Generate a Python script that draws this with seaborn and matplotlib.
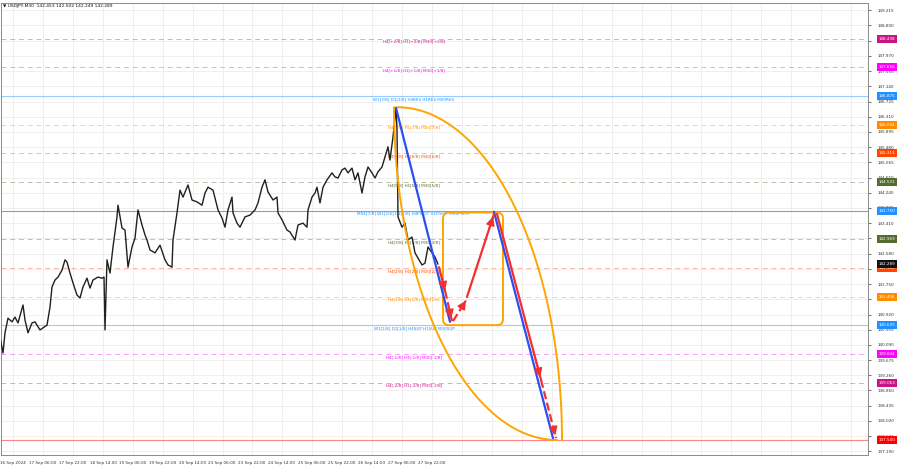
import numpy as np
import pandas as pd
import seaborn as sns
import matplotlib.pyplot as plt
from matplotlib.patches import FancyBboxPatch

# price path (bar slot, close)
bars = [0, 3, 5, 8, 12, 15, 18, 23, 25, 28, 32, 35, 40, 47, 50, 52, 55, 58, 62, 65,
        67, 70, 73, 77, 80, 83, 87, 90, 93, 98, 102, 104, 105, 107, 110, 113, 117, 118, 122, 125,
        128, 132, 135, 138, 142, 145, 147, 150, 155, 160, 165, 168, 172, 173, 177, 180, 183, 188, 192, 197,
        202, 205, 208, 213, 218, 222, 225, 228, 232, 233, 237, 240, 245, 250, 255, 258, 262, 265, 268, 273,
        277, 278, 282, 287, 290, 295, 298, 303, 307, 308, 312, 315, 317, 320, 323, 327, 332, 335, 338, 342,
        345, 348, 352, 355, 358, 362, 365, 368, 372, 375, 378, 382, 385, 388, 390, 393, 396, 397, 398, 402,
        405, 408, 412, 415, 418, 422, 425, 428, 432, 435, 438]
close = [140.30, 139.87, 140.42, 140.82, 140.72, 140.85, 140.69, 141.18, 140.77, 140.42, 140.69, 140.72, 140.50, 140.63, 141.12, 141.67, 141.86, 141.94, 142.13, 142.41,
         142.35, 142.05, 141.78, 141.45, 141.37, 141.67, 141.91, 141.64, 141.86, 141.94, 141.91, 141.94, 140.50, 142.41, 142.05, 142.76, 143.58, 143.90, 143.28, 143.22,
         142.21, 142.76, 143.00, 143.77, 143.36, 143.09, 142.95, 142.68, 142.60, 142.81, 142.41, 142.27, 142.21, 142.95, 143.69, 144.31, 144.12, 144.45, 144.04, 143.99,
         143.90, 144.23, 144.39, 144.31, 143.77, 143.55, 143.30, 143.77, 144.12, 143.69, 143.41, 143.30, 143.58, 143.63, 143.77, 143.96, 144.39, 144.59, 144.26, 144.04,
         144.12, 143.69, 143.50, 143.22, 143.17, 142.95, 143.36, 143.41, 143.30, 143.77, 144.12, 144.23, 144.39, 143.96, 144.39, 144.59, 144.78, 144.67, 144.64, 144.86,
         144.91, 144.78, 144.91, 144.59, 144.78, 144.23, 144.67, 144.94, 144.78, 144.64, 144.81, 144.94, 145.21, 145.49, 145.13, 145.76, 146.55, 145.95, 143.58, 143.30,
         143.41, 142.95, 143.03, 142.60, 142.46, 142.27, 142.32, 142.76, 142.60, 142.49, 142.29]

# murrey levels
level_prices = [148.438, 147.656, 146.875, 146.094, 145.313, 144.531, 143.750,
                142.969, 142.188, 141.406, 140.625, 139.844, 139.063]
level_names = ["H4[+2/8] H1[+2/8] M30[+2/8]", "H4[+1/8] H1[+1/8] M30[+1/8]",
               "W1[3/8] D1[3/8] H4RES H1RES M30RES", "H4[7/8] H1[7/8] M30[7/8]",
               "H4[6/8] H1[6/8] M30[6/8]", "H4[5/8] H1[5/8] M30[5/8]",
               "MN1[7/8] W1[2/8] D1[2/8] H4PIVOT H1PIVOT M30PIVOT",
               "H4[3/8] H1[3/8] M30[3/8]", "H4[2/8] H1[2/8] M30[2/8]",
               "H4[1/8] H1[1/8] M30[1/8]", "W1[1/8] D1[1/8] H4SUP H1SUP M30SUP",
               "H4[-1/8] H1[-1/8] M30[-1/8]", "H4[-2/8] H1[-2/8] M30[-2/8]"]
level_colors = ["#c71585", "#ff00ff", "#1e90ff", "#ff8c00", "#ff4500", "#556b2f", "#1e90ff",
                "#556b2f", "#ff4500", "#ff8c00", "#1e90ff", "#ff00ff", "#c71585"]
level_solid = [False, False, True, False, False, False, True,
               False, False, False, True, False, False]

target_price = 137.500
last_price = 142.289

y_ticks = [149.215, 148.800, 148.385, 147.970, 147.555, 147.140, 146.725, 146.310, 145.895,
           145.480, 145.065, 144.650, 144.240, 143.825, 143.410, 142.995, 142.580, 142.165,
           141.750, 141.335, 140.920, 140.505, 140.090, 139.675, 139.260, 138.850, 138.435,
           138.020, 137.605, 137.190]
x_ticks = [13, 43, 73, 103, 133, 163, 193, 222, 252, 282, 312, 342, 372, 402, 432]
x_labels = ["16 Sep 2024", "17 Sep 06:00", "17 Sep 22:00", "18 Sep 14:00", "19 Sep 06:00",
            "19 Sep 22:00", "20 Sep 14:00", "23 Sep 06:00", "23 Sep 22:00", "24 Sep 14:00",
            "25 Sep 06:00", "25 Sep 22:00", "26 Sep 14:00", "27 Sep 06:00", "27 Sep 22:00"]

# forecast drawing anchors (bar, price)
blue_legs = [((396, 146.55), (450, 140.72)), ((494, 143.72), (553, 137.55))]
red_legs = [((439, 142.21), (445, 141.57), '-'), ((445, 141.57), (452, 140.74), '--'),
            ((453, 140.74), (466, 141.30), '--'), ((467, 141.40), (494, 143.66), '-'),
            ((497, 143.66), (541, 139.14), '-'), ((541, 139.14), (556, 137.55), '--')]
box_x = (443, 503)
box_p = (140.63, 143.70)
arc_top = (394, 146.57)
arc_bottom = (557, 137.50)

sns.set_style("white")
plt.rcParams['font.family'] = ['DejaVu Sans']

fig = plt.figure(figsize=(9, 4.68), dpi=100)
ax = fig.add_axes([1 / 900, 13 / 468, 867 / 900, 452 / 468])
ax.set_xlim(1, 868)
ax.set_ylim(137.091, 149.410)

# grid
for gx in np.arange(13, 868, 29.93):
    ax.axvline(gx, color='#ececec', lw=0.6, zorder=0)
for gy in y_ticks:
    ax.axhline(gy, color='#ececec', lw=0.6, zorder=0)

# levels
for p, name, c, solid in zip(level_prices, level_names, level_colors, level_solid):
    if solid:
        ax.axhline(p, color=c, lw=0.8, alpha=0.75 if name.startswith('MN1') else 0.45, zorder=1)
    else:
        ax.axhline(p, color=c, lw=0.7, ls=(0, (5, 4)), alpha=0.4, zorder=1)
    ax.annotate(name, xy=(414, p), xytext=(0, -2.3), textcoords='offset points',
                ha='center', va='center', fontsize=3, color=c, zorder=2)
ax.axhline(target_price, color='#ff5050', lw=0.8, alpha=0.7, zorder=1)

# price
df = pd.DataFrame({'bar': bars, 'close': close})
sns.lineplot(data=df, x='bar', y='close', estimator=None, sort=False,
             color='#202020', lw=1.0, ax=ax, zorder=3)

# orange lens
t = np.linspace(0, np.pi / 2, 80)
dx = arc_bottom[0] - arc_top[0]
dp = arc_top[1] - arc_bottom[1]
ax.plot(arc_bottom[0] - dx * np.cos(t), arc_top[1] - dp * np.sin(t), color='#ffa500', lw=1.4, zorder=4)
ax.plot(arc_top[0] + 3 + (dx + 2) * np.sin(t), arc_bottom[1] + dp * np.cos(t), color='#ffa500', lw=1.4, zorder=4)
ax.add_patch(FancyBboxPatch((box_x[0], box_p[0]), box_x[1] - box_x[0], box_p[1] - box_p[0],
                            boxstyle='round,pad=0,rounding_size=6', mutation_aspect=0.027255,
                            fill=False, ec='#ffa500', lw=1.4, zorder=4))

for a, b in blue_legs:
    ax.plot([a[0], b[0]], [a[1], b[1]], color='#2a4ff2', lw=1.6, zorder=5)
for a, b, ls in red_legs:
    ax.plot([a[0], b[0]], [a[1], b[1]], color='#f23030', lw=1.6, ls=ls, zorder=6)
    ax.annotate('', xy=b, xytext=(a[0] + 0.8 * (b[0] - a[0]), a[1] + 0.8 * (b[1] - a[1])),
                arrowprops=dict(arrowstyle='-|>,head_length=0.5,head_width=0.25',
                                color='#f23030', lw=1.2), zorder=6)

# axes styling
ax.set_xlabel('')
ax.set_ylabel('')
ax.yaxis.tick_right()
ax.set_yticks(y_ticks)
ax.set_yticklabels([f"{v:.3f}" for v in y_ticks])
ax.set_xticks(x_ticks)
ax.set_xticklabels(x_labels)
ax.tick_params(axis='y', labelsize=3, length=2, width=0.5, pad=5, colors='#333333')
ax.tick_params(axis='x', labelsize=3, length=2, width=0.5, pad=2, colors='#333333')
for s in ax.spines.values():
    s.set_color('#8a8a8a')
    s.set_linewidth(0.7)

# right-side price tags
tags = list(zip(level_prices, level_colors)) + [(last_price, '#111111'), (target_price, '#ff0000')]
tags = sorted(tags, key=lambda x: x[0] == last_price)
for p, c in tags:
    ax.annotate(f"{p:.3f}", xy=(1, p), xycoords=('axes fraction', 'data'),
                xytext=(7.5, 0), textcoords='offset points', ha='left', va='center',
                fontsize=3, color='white', annotation_clip=False, zorder=10,
                bbox=dict(boxstyle='square,pad=0.45', fc=c, ec='none'))

fig.text(3 / 900, 1 - 6 / 468, "\u25bc USDJPY,M30  142.453 142.502 142.249 142.289",
         fontsize=3.2, va='center', ha='left', color='#111111')

fig.savefig('out.png', dpi=100)
